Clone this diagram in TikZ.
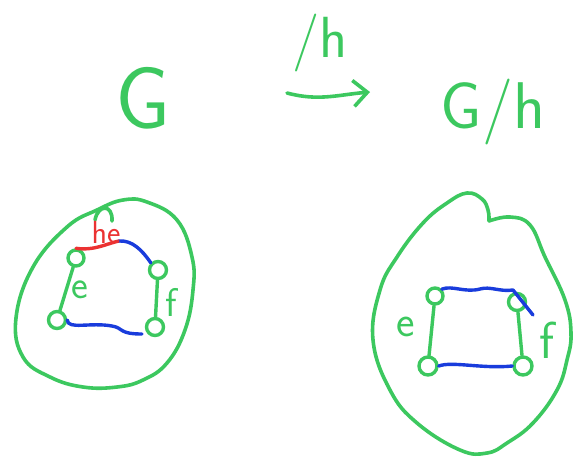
\documentclass[tikz,border=0pt]{standalone}
\usetikzlibrary{arrows.meta}
\definecolor{pen}{RGB}{60,200,95}
\definecolor{bpen}{RGB}{25,60,220}
\definecolor{rpen}{RGB}{235,50,50}
\begin{document}
\begin{tikzpicture}[x=1pt,y=-1pt,line cap=round,line join=round,
  stroke/.style={line width=3.6pt,draw=pen},
  vtx/.style={circle,draw=pen,line width=3.4pt,minimum size=16pt,inner sep=0pt},
  gedge/.style={draw=pen,line width=3.4pt},
  bedge/.style={draw=bpen,line width=3.4pt},
  redge/.style={draw=rpen,line width=3.4pt},
  lbl/.style={text=pen,inner sep=0pt,font=\sffamily\fontsize{40}{40}\selectfont}]
\useasboundingbox[fill=white] (0,0) rectangle (583,456);

% top line
\node[lbl,font=\sffamily\fontsize{88}{88}\selectfont] (G) at (143,98) {G};
\node[lbl,anchor=base,font=\sffamily\fontsize{58}{58}\selectfont] (H) at (320,57) {/h};
\node[lbl,anchor=base,font=\sffamily\fontsize{66}{66}\selectfont] (GH) at (493,128) {G/h};
\coordinate (a1) at (287,93);
\coordinate (a2) at (370,92);
\draw[stroke,-{Straight Barb[length=14pt,width=26pt,line width=3.6pt]}] (a1) to[out=-15,in=185] (a2);

% left graph G
\draw[stroke] plot[smooth cycle,tension=0.7] coordinates {(23,357) (50,377) (83,387) (117,387) (143,380) (167,363) (185,330) (193,290) (192,257) (177,220) (147,202) (123,200) (97,210) (67,227) (33,267) (16,318)};
\draw[stroke] (95,220) .. controls (98,204) and (113,204) .. (112,221);
\node[vtx] (A) at (76,258) {};
\node[vtx,minimum size=17pt] (B) at (158,270) {};
\node[vtx,minimum size=17pt] (C) at (57,320) {};
\node[vtx,minimum size=17pt] (D) at (155,327) {};
\coordinate (hv) at (119,241);
\draw[gedge] (A) -- (C);
\draw[gedge] (B) -- (D);
\node[lbl] (le) at (80,290) {e};
\node[lbl] (lf) at (171,302) {f};
\draw[bedge] (C.east) .. controls (68,330) and (90,322) .. (112,326) .. controls (124,328) and (118,334) .. (142,334);
\draw[redge] (A.north) .. controls (95,251) and (108,243) .. (hv);
\draw[bedge] (hv) .. controls (132,240) and (142,250) .. (B.north west);
\node[text=rpen,inner sep=0pt,font=\sffamily\fontsize{32}{32}\selectfont] (hl) at (106,233) {he};

% right graph G/H
\draw[stroke] plot[smooth,tension=0.7] coordinates {(489,221) (510,217) (530,225) (545,257) (565,300) (571,333) (567,360) (557,390) (533,423) (507,443) (487,453) (460,450) (417,423) (390,390) (373,340) (380,290) (397,257) (423,223) (447,203) (467,193) (482,199) (488,210) (489,221)};
\node[vtx] (P) at (435,296) {};
\node[vtx,minimum size=17pt] (Q) at (517,302) {};
\node[vtx,minimum size=18pt] (R) at (428,366) {};
\node[vtx,minimum size=18pt] (S) at (523,366) {};
\coordinate (qe) at (533,315);
\draw[gedge] (P) -- (R);
\draw[gedge] (Q) -- (S);
\node[lbl,font=\sffamily\fontsize{44}{44}\selectfont] (re) at (406,327) {e};
\node[lbl,font=\sffamily\fontsize{52}{52}\selectfont] (rf) at (547,340) {f};
\draw[bedge] (P.north east) .. controls (452,285) and (465,293) .. (480,289) .. controls (490,286) and (500,292) .. (513,290) -- (qe);
\draw[bedge] (R.east) .. controls (452,361) and (482,369) .. (S.west);
\end{tikzpicture}
\end{document}
